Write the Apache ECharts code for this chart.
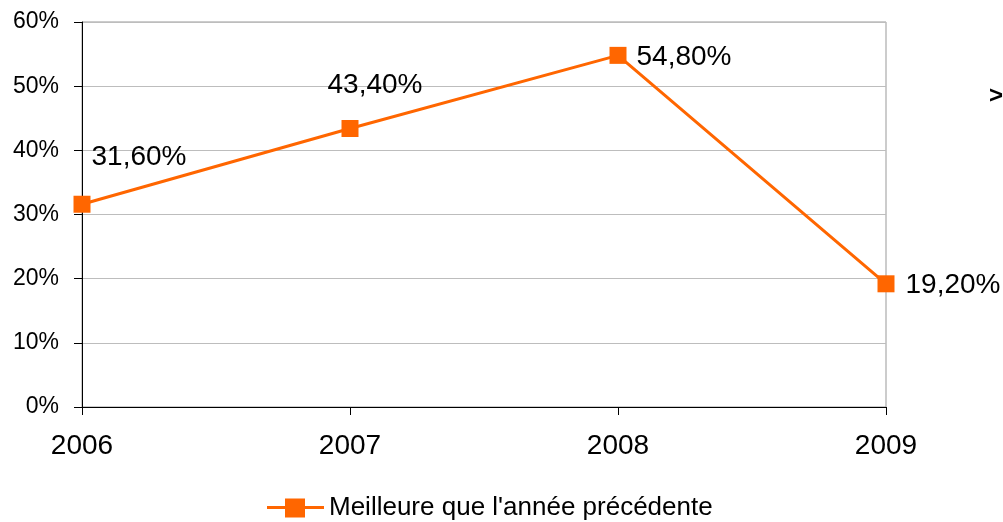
<!DOCTYPE html>
<html>
<head>
<meta charset="utf-8">
<script src="https://cdn.jsdelivr.net/npm/echarts@6/dist/echarts.min.js"></script>
<style>
  html, body { margin: 0; padding: 0; background: #fff; }
  #chart { width: 1003px; height: 522px; }
</style>
</head>
<body>
<div id="chart"></div>
<script>
const years = ["2006", "2007", "2008", "2009"];
const values = [31.6, 43.4, 54.8, 19.2];
const seriesName = "Meilleure que l'année précédente";

// label placement per point (offsets only, not data)
const labelPos = [
  { position: "right", offset: [-4, -47] },
  { position: "top", offset: [25, -16] },
  { position: "right", offset: [5, 2] },
  { position: "right", offset: [6, 1] },
];

const chart = echarts.init(document.getElementById("chart"));
const font = "Liberation Sans, Arial, sans-serif";

chart.setOption({
  animation: false,
  textStyle: { fontFamily: font },
  grid: {
    left: 82,
    right: 117,
    top: 22,
    bottom: 115,
    show: true,
    borderColor: "#999",
    borderWidth: 1,
  },
  legend: {
    top: 495,
    left: 267,
    padding: 0,
    itemWidth: 57,
    itemHeight: 19,
    itemGap: 4,
    icon: "path://M0,7.5 L18,7.5 L18,0 L38,0 L38,7.5 L57,7.5 L57,10.5 L38,10.5 L38,19 L18,19 L18,10.5 L0,10.5 Z",
    textStyle: { fontSize: 26, color: "#000", fontFamily: font },
    data: [seriesName],
  },
  xAxis: {
    type: "category",
    boundaryGap: false,
    data: years,
    axisLine: { lineStyle: { color: "#000", width: 1 } },
    axisTick: { show: true, length: 8, inside: false, lineStyle: { color: "#000" } },
    axisLabel: { fontSize: 28, color: "#000", margin: 25, fontFamily: font },
    splitLine: { show: false },
  },
  yAxis: {
    type: "value",
    min: 0,
    max: 60,
    interval: 10,
    axisLine: { show: true, lineStyle: { color: "#000", width: 1 } },
    axisTick: { show: true, length: 8, lineStyle: { color: "#000" } },
    axisLabel: {
      fontSize: 23,
      color: "#000",
      margin: 23,
      fontFamily: font,
      formatter: (v) => v + "%",
    },
    splitLine: { show: true, lineStyle: { color: "#bdbdbd", width: 1 } },
  },
  series: [
    {
      name: seriesName,
      type: "line",
      data: values.map((v, i) => ({
        value: v,
        label: {
          show: true,
          position: labelPos[i].position,
          offset: labelPos[i].offset,
        },
      })),
      symbol: "rect",
      symbolSize: 17,
      lineStyle: { color: "#FF6600", width: 3 },
      itemStyle: { color: "#FF6600" },
      label: {
        show: true,
        fontSize: 28,
        color: "#000",
        fontFamily: font,
        distance: 5,
        formatter: (p) => p.value.toFixed(2).replace(".", ",") + "%",
      },
      z: 3,
    },
  ],
  graphic: [
    {
      type: "text",
      left: 989,
      top: 84,
      style: { text: ">", fontSize: 24, fontWeight: "bold", fill: "#000", fontFamily: font },
    },
  ],
});
</script>
</body>
</html>
